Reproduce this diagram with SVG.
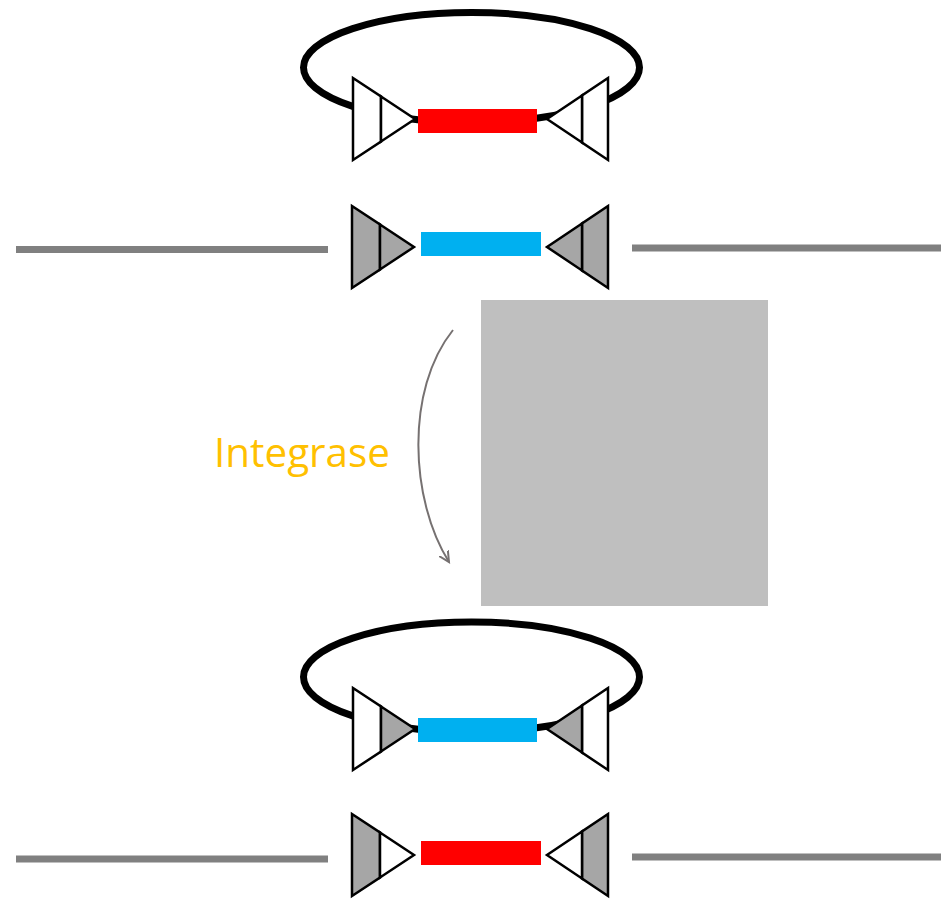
<svg xmlns="http://www.w3.org/2000/svg" width="941" height="902" viewBox="0 0 941 902">
<style>
.plasmid{fill:none;stroke:#000;stroke-width:7}
.chrom{stroke:#808080;stroke-width:7;fill:none}
.tri{stroke:#000;stroke-width:2.5;stroke-linejoin:miter}
.w{fill:#fff}
.g{fill:#a6a6a6}
.red{fill:#ff0000}
.blue{fill:#00b0f0}
.lbl{font-family:"Open Sans","Liberation Sans",sans-serif;font-size:40px;fill:#ffc000}
.conn{fill:none;stroke:#767171;stroke-width:2}
</style>
<defs>
<marker id="arr" markerWidth="20" markerHeight="20" refX="10" refY="10" orient="auto" markerUnits="userSpaceOnUse">
<path d="M-6,2 L10,10 L-6,18" fill="none" stroke="#767171" stroke-width="2"/>
</marker>
</defs>
<rect x="481" y="300" width="287" height="306" fill="#bfbfbf"/>
<g id="plasmid-top">
<ellipse class="plasmid" cx="471.5" cy="67.5" rx="168" ry="55"/>
<g transform="translate(353,78)"><polygon class="tri w" points="0,0 28,18.5 28,63.5 0,82"/><polygon class="tri w" points="28,18.5 62,41 28,63.5"/></g>
<g transform="translate(608,78)"><polygon class="tri w" points="0,0 -26,17.5 -26,64.5 0,82"/><polygon class="tri w" points="-26,17.5 -61,41 -26,64.5"/></g>
<rect class="red" x="418" y="109" width="119" height="24"/>
</g>
<g id="chromosome-top">
<line class="chrom" x1="16" y1="249.5" x2="328" y2="249.5"/>
<line class="chrom" x1="632" y1="248" x2="941" y2="248"/>
<g transform="translate(352,206)"><polygon class="tri g" points="0,0 28,18.5 28,63.5 0,82"/><polygon class="tri g" points="28,18.5 62,41 28,63.5"/></g>
<g transform="translate(608,206)"><polygon class="tri g" points="0,0 -26,17.5 -26,64.5 0,82"/><polygon class="tri g" points="-26,17.5 -61,41 -26,64.5"/></g>
<rect class="blue" x="421" y="232" width="120" height="24"/>
</g>
<g id="label">
<text class="lbl" x="214" y="467" textLength="176" lengthAdjust="spacingAndGlyphs">Integrase</text>
</g>
<g id="connectors">
<path class="conn" d="M453,330 C405,390 410,500 449,562" marker-end="url(#arr)"/>
</g>
<g id="plasmid-bottom">
<ellipse class="plasmid" cx="471.5" cy="677" rx="168" ry="55"/>
<g transform="translate(353,688)"><polygon class="tri w" points="0,0 28,18.5 28,63.5 0,82"/><polygon class="tri g" points="28,18.5 62,41 28,63.5"/></g>
<g transform="translate(608,688)"><polygon class="tri w" points="0,0 -26,17.5 -26,64.5 0,82"/><polygon class="tri g" points="-26,17.5 -61,41 -26,64.5"/></g>
<rect class="blue" x="418" y="718" width="119" height="24"/>
</g>
<g id="chromosome-bottom">
<line class="chrom" x1="16" y1="859" x2="328" y2="859"/>
<line class="chrom" x1="632" y1="857" x2="941" y2="857"/>
<g transform="translate(352,814)"><polygon class="tri g" points="0,0 28,18.5 28,63.5 0,82"/><polygon class="tri w" points="28,18.5 62,41 28,63.5"/></g>
<g transform="translate(608,814)"><polygon class="tri g" points="0,0 -26,17.5 -26,64.5 0,82"/><polygon class="tri w" points="-26,17.5 -61,41 -26,64.5"/></g>
<rect class="red" x="421" y="841" width="120" height="24"/>
</g>
</svg>
